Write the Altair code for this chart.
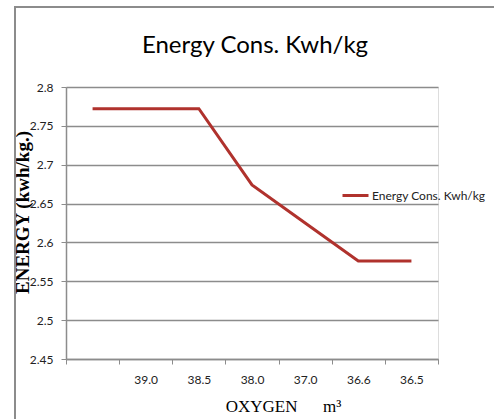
import altair as alt
import pandas as pd

# Oxygen flow categories (first slot has no label) and energy consumption
oxygen = ["", "39.0", "38.5", "38.0", "37.0", "36.6", "36.5"]
energy = [2.772, 2.772, 2.772, 2.674, 2.625, 2.576, 2.576]
series = "Energy Cons. Kwh/kg"
y_ticks = [2.45, 2.5, 2.55, 2.6, 2.65, 2.7, 2.75, 2.8]

df = pd.DataFrame({"oxygen": oxygen, "energy": energy, "series": series})

LINE_RED = "#B0322D"
GRID = "#8C8C8C"
NBSP = "\u00a0"

line = alt.Chart(df).mark_line(strokeWidth=3, strokeJoin="miter").encode(
    x=alt.X(
        "oxygen:N",
        sort=oxygen,
        bandPosition=0.5,
        scale=alt.Scale(type="band", paddingInner=0, paddingOuter=0),
        axis=alt.Axis(
            title="OXYGEN" + NBSP * 6 + "m³",
            titleFont="Liberation Serif",
            titleFontSize=17,
            titleFontWeight="normal",
            titleColor="#000000",
            titleX=217,
            titleY=47,
            titleAlign="center",
            titleBaseline="middle",
            labelFont="Lato",
            labelFontSize=12,
            labelColor="#222222",
            labelAngle=0,
            labelPadding=10,
            tickBand="extent",
            tickSize=5,
            tickColor=GRID,
            domainColor=GRID,
            domainWidth=1.5,
            grid=False,
        ),
    ),
    y=alt.Y(
        "energy:Q",
        scale=alt.Scale(domain=[2.45, 2.8], nice=False, zero=False),
        axis=alt.Axis(
            values=y_ticks,
            format=".2~f",
            title="ENERGY (kwh/kg.)",
            titleFont="Liberation Serif",
            titleFontSize=19,
            titleFontWeight="bold",
            titleColor="#000000",
            titleAngle=270,
            titleX=-44,
            titleY=125,
            titleAlign="center",
            titleBaseline="middle",
            labelFont="Lato",
            labelFontSize=12,
            labelColor="#222222",
            labelPadding=8,
            tickSize=5,
            tickColor=GRID,
            domainColor=GRID,
            domainWidth=1.5,
            grid=True,
            gridColor=GRID,
            gridWidth=1.3,
        ),
    ),
    color=alt.Color(
        "series:N",
        scale=alt.Scale(range=[LINE_RED]),
        legend=alt.Legend(
            title=None,
            orient="none",
            legendX=275,
            legendY=94,
            symbolType="stroke",
            symbolSize=676,
            symbolStrokeWidth=3,
            labelFont="Lato",
            labelFontSize=12,
            labelColor="#222222",
            labelOffset=2,
        ),
    ),
)

# outer chart-area frame
frame = alt.Chart(df).mark_rect(
    fill=None, stroke="#8C8C8C", strokeWidth=1.5
).encode(
    x=alt.value(-51),
    x2=alt.value(460),
    y=alt.value(-80),
    y2=alt.value(400),
)

chart = alt.layer(frame, line).properties(
    width=372,
    height=272,
    autosize=alt.AutoSizeParams(type="none"),
    padding={"left": 66, "top": 87, "right": 56, "bottom": 60},
    title=alt.TitleParams(
        text="Energy Cons. Kwh/kg",
        font="Lato",
        fontSize=24,
        fontWeight="normal",
        color="#000000",
        anchor="middle",
        frame="group",
        offset=-64,
        baseline="middle",
        dx=3,
    ),
).configure_view(stroke=None).configure(background="white")

chart.save("out.html", embed_options={"renderer": "svg", "actions": False})
